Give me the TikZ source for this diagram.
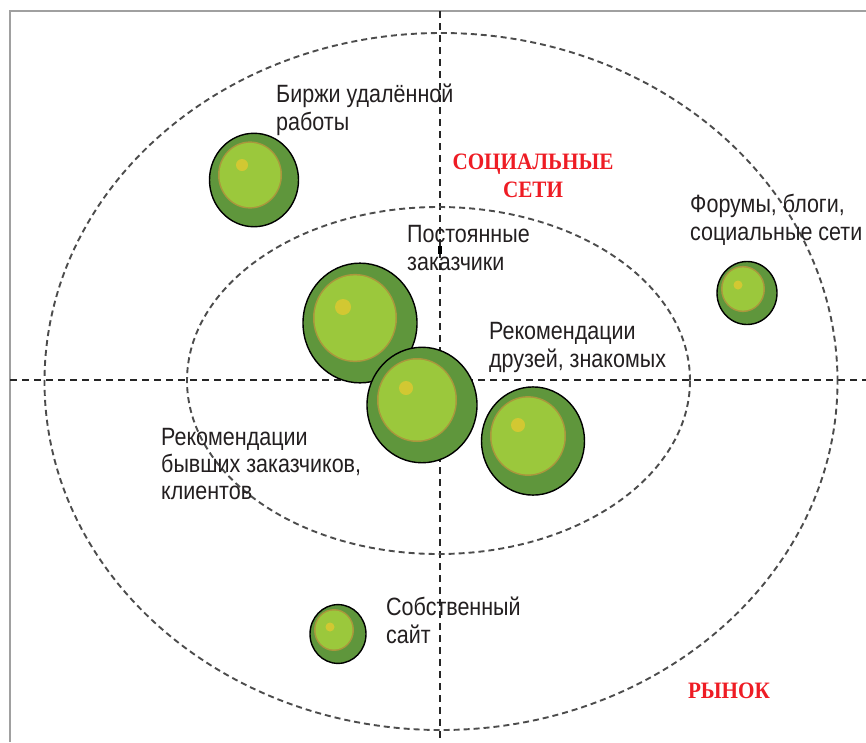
\documentclass[tikz,border=0pt]{standalone}
\usepackage{fontspec}
\setmainfont{Liberation Sans}[FakeStretch=0.86]
\newfontfamily\redfont{Liberation Serif}[FakeStretch=0.9]
\definecolor{framegray}{HTML}{A0A0A0}
\definecolor{darkgr}{HTML}{5F963C}
\definecolor{lightgr}{HTML}{9BC83C}
\definecolor{ringbr}{HTML}{AA963C}
\definecolor{hilite}{HTML}{D2C832}
\definecolor{redtxt}{HTML}{EE1C24}
\definecolor{txt}{HTML}{231F20}
\tikzset{
  axisline/.style={line width=1.7pt, color=black!85, dash pattern=on 7pt off 5pt},
  ringline/.style={line width=1.9pt, color=black!70, dash pattern=on 6pt off 4pt},
  label/.style={anchor=base west, inner sep=0pt, font=\fontsize{25}{27.5}\selectfont, text=txt},
  redlabel/.style={anchor=base, inner sep=0pt, font=\redfont\bfseries\fontsize{23.5}{28}\selectfont, text=redtxt, align=center},
}
\newcommand{\bubble}[9]{%
  \fill[darkgr] (#1,#2) ellipse [x radius=#3pt, y radius=1.05*#3pt];
  \fill[ringbr] (#4,#5) ellipse [x radius=#6pt, y radius=1.05*#6pt];
  \fill[lightgr] (#4,#5) ellipse [x radius=#6pt-1.5pt, y radius=1.05*#6pt-1.5pt];
  \fill[hilite] (#7,#8) circle [radius=#9pt];
  \draw[line width=1.4pt, black] (#1,#2) ellipse [x radius=#3pt, y radius=1.05*#3pt];
}
\begin{document}
\begin{tikzpicture}[x=1pt, y=-1pt]
\useasboundingbox (0,0) rectangle (866,742);
% frame
\draw[framegray, line width=2pt] (9.5,742) -- (9.5,10.5) -- (866,10.5);
% axes
\coordinate (hl) at (10,380);
\coordinate (hr) at (866,380);
\coordinate (vt) at (440,11);
\coordinate (vb) at (440,742);
\draw[axisline] (hl) -- (hr);
\draw[axisline] (vt) -- (vb);
\fill[black] (438.2,246) rectangle (441.8,254);
% ellipses
\coordinate (c0) at (441,381.5);
\draw[ringline] (c0) ellipse [x radius=396.5pt, y radius=348.5pt];
\coordinate (c1) at (438.5,380.5);
\draw[ringline] (c1) ellipse [x radius=251.5pt, y radius=173.5pt];
% bubbles
\bubble{254}{180}{44.5}{250}{175}{32}{242}{165}{6}
\bubble{360}{323}{57}{355}{318}{42}{343}{307}{8}
\bubble{422}{405}{55}{417}{400}{40}{406}{388}{7}
\bubble{533}{441}{51.5}{528}{436}{38}{518}{425}{7}
\bubble{747}{293}{30}{743}{289}{22}{738}{285}{4.5}
\bubble{338}{634}{28}{334}{630}{20}{330}{627}{4.5}
% labels
\node[label] (birzhi1) at (276,102) {Биржи удалённой};
\node[label] (birzhi2) at (276,130) {работы};
\node[label] (post1) at (407,242) {Постоянные};
\node[label] (post2) at (407,270) {заказчики};
\node[label] (rekdr1) at (489,339) {Рекомендации};
\node[label] (rekdr2) at (489,367) {друзей, знакомых};
\node[label] (forum1) at (690,212) {Форумы, блоги,};
\node[label] (forum2) at (690,240) {социальные сети};
\node[label] (rekb1) at (161,445) {Рекомендации};
\node[label] (rekb2) at (161,472) {бывших заказчиков,};
\node[label] (rekb3) at (161,499) {клиентов};
\node[label] (sobs1) at (386,615) {Собственный};
\node[label] (sobs2) at (386,643) {сайт};
\node[redlabel] (soc1) at (533,169) {СОЦИАЛЬНЫЕ};
\node[redlabel] (soc2) at (533,197) {СЕТИ};
\node[redlabel] (rynok) at (729,698) {РЫНОК};
\end{tikzpicture}
\end{document}
